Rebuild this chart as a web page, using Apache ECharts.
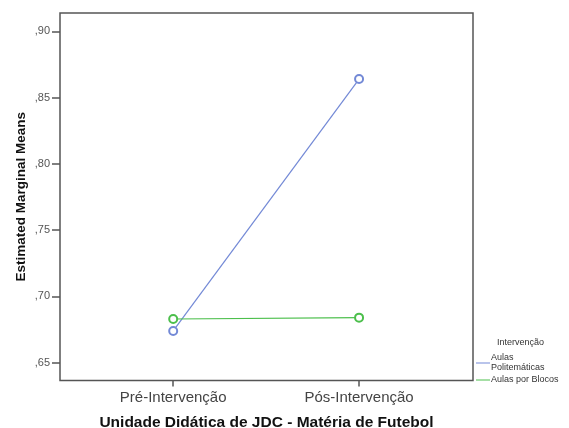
<!DOCTYPE html>
<html>
<head>
<meta charset="utf-8">
<script src="https://cdn.jsdelivr.net/npm/echarts@6/dist/echarts.min.js"></script>
<style>
  html, body { margin: 0; padding: 0; background: #fff; }
  #chart { width: 569px; height: 428px; }
</style>
</head>
<body>
<div id="chart"></div>
<script>
// Estimated marginal means by moment of intervention
const categories = ['Pré-Intervenção', 'Pós-Intervenção'];
const seriesNames = ['Aulas Politemáticas', 'Aulas por Blocos'];
const politematicas = [0.674, 0.864];
const blocos = [0.683, 0.684];
const yTicks = [0.65, 0.70, 0.75, 0.80, 0.85, 0.90];

const BLUE = '#7389d6';
const GREEN = '#4cbf4c';
const AXIS = '#555';
const FONT = 'Liberation Sans, Arial, sans-serif';

function lineSeries(name, values, color) {
  return {
    name: name,
    type: 'line',
    data: values.map((v, i) => [i, v]),
    symbol: 'emptyCircle',
    symbolSize: 8,
    showSymbol: true,
    lineStyle: { color: color, width: 1.2 },
    itemStyle: { color: color, borderColor: color, borderWidth: 0.9 },
    emphasis: { disabled: true },
    animation: false
  };
}

const chart = echarts.init(document.getElementById('chart'));
chart.setOption({
  backgroundColor: '#fff',
  animation: false,
  grid: {
    left: 60, right: 96, top: 13, bottom: 47.5,
    outerBoundsMode: 'none',
    containLabel: false,
    show: true, borderColor: AXIS, borderWidth: 1.5, backgroundColor: '#fff'
  },
  title: {
    text: 'Intervenção',
    left: 497, top: 338,
    padding: 0,
    textStyle: { fontFamily: FONT, fontSize: 9, fontWeight: 'normal', color: '#333' }
  },
  legend: {
    data: seriesNames,
    orient: 'vertical',
    left: 471, top: 348,
    itemGap: 2,
    itemWidth: 14, itemHeight: 1,
    icon: 'rect',
    selectedMode: false,
    itemStyle: { borderWidth: 0 },
    formatter: n => n === seriesNames[0] ? 'Aulas\nPolitemáticas' : n,
    textStyle: { fontFamily: FONT, fontSize: 9, lineHeight: 10, color: '#333', padding: [0, 0, 0, -4] }
  },
  xAxis: {
    type: 'value',
    min: -0.609, max: 1.613,
    name: 'Unidade Didática de JDC - Matéria de Futebol',
    nameLocation: 'middle',
    nameGap: 34,
    nameMoveOverlap: false,
    nameTextStyle: { fontFamily: FONT, fontSize: 15.5, fontWeight: 'bold', color: '#111' },
    axisLine: { show: false, onZero: false },
    splitLine: { show: false },
    axisTick: { show: true, customValues: [0, 1], length: 6, lineStyle: { color: AXIS, width: 1.5 } },
    axisLabel: {
      customValues: [0, 1],
      formatter: v => categories[Math.round(v)],
      margin: 10,
      fontFamily: FONT, fontSize: 15, color: '#444'
    }
  },
  yAxis: {
    type: 'value',
    min: 0.6366, max: 0.9138,
    name: 'Estimated Marginal Means',
    nameLocation: 'middle',
    nameGap: 32,
    nameMoveOverlap: false,
    nameTextStyle: { fontFamily: FONT, fontSize: 13.5, fontWeight: 'bold', color: '#111' },
    axisLine: { show: false, onZero: false },
    splitLine: { show: false },
    axisTick: { show: true, customValues: yTicks, length: 8, lineStyle: { color: AXIS, width: 1.5 } },
    axisLabel: {
      customValues: yTicks,
      formatter: v => ',' + String(Math.round(v * 100)).padStart(2, '0'),
      margin: 10,
      fontFamily: FONT, fontSize: 11, color: '#555'
    }
  },
  series: [
    lineSeries(seriesNames[0], politematicas, BLUE),
    lineSeries(seriesNames[1], blocos, GREEN)
  ]
});
</script>
</body>
</html>
